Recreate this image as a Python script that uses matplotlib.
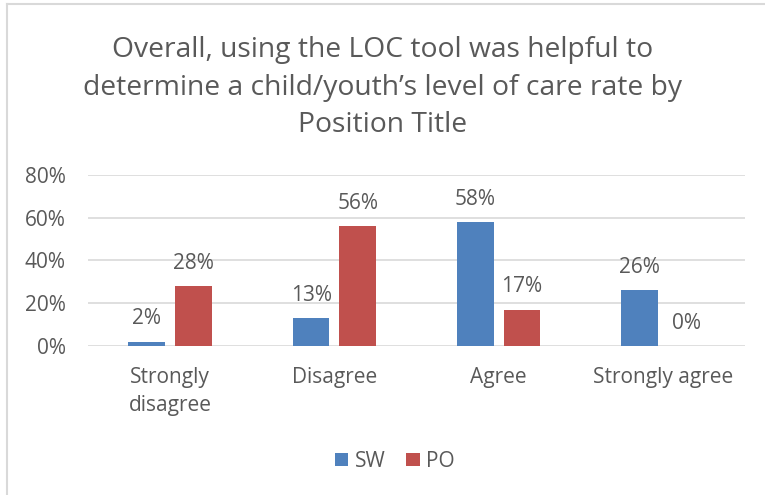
import matplotlib.pyplot as plt
from matplotlib.lines import Line2D
import numpy as np

plt.rcParams['font.family'] = ['Open Sans', 'DejaVu Sans']

categories = ['Strongly\ndisagree', 'Disagree', 'Agree', 'Strongly agree']
sw = [0.02, 0.13, 0.58, 0.26]
po = [0.28, 0.56, 0.17, 0.00]
series_names = ['SW', 'PO']
title = ("Overall, using the LOC tool was helpful to\n"
         "determine a child/youth\u2019s level of care rate by\n"
         "Position Title")

blue = '#4F81BD'
red = '#C0504D'
grey = '#595959'

fig = plt.figure(figsize=(7.65, 4.95), dpi=100)
ax = fig.add_axes([0.115, 0.301, 0.859, 0.3455])

x = np.arange(len(categories))
w = 0.224
off = 0.142
b1 = ax.bar(x - off, sw, w, color=blue, label=series_names[0], zorder=3)
b2 = ax.bar(x + off, po, w, color=red, label=series_names[1], zorder=3)

for bars, vals in [(b1, sw), (b2, po)]:
    for rect, v in zip(bars, vals):
        ax.annotate('{:.0f}%'.format(v * 100),
                    (rect.get_x() + rect.get_width() / 2, v),
                    xytext=(0, 9), textcoords='offset points',
                    ha='center', va='bottom', fontsize=15, color=grey)

ax.set_xlim(-0.5, 3.5)
ax.set_ylim(0, 0.8)
ax.set_yticks([0, 0.2, 0.4, 0.6, 0.8])
ax.set_yticklabels(['0%', '20%', '40%', '60%', '80%'])
ax.set_xticks(x)
ax.set_xticklabels(categories, linespacing=1.45)
ax.tick_params(axis='both', length=0, labelsize=15, labelcolor=grey)
ax.tick_params(axis='y', pad=16)
ax.tick_params(axis='x', pad=15)
ax.yaxis.grid(True, color='#D9D9D9', linewidth=1.2, zorder=0)
for s in ax.spines.values():
    s.set_visible(False)

fig.text(0.5, 1 - 36 / 495, title, ha='center', va='top', fontsize=20.3,
         color=grey, linespacing=1.46)

fig.legend(loc='center', bbox_to_anchor=(0.516, 0.068), ncol=2, frameon=False,
           fontsize=15, labelcolor=grey, handlelength=0.65, handleheight=0.65,
           handletextpad=0.3, columnspacing=1.0)

# light border of the chart area
fig.add_artist(Line2D([7 / 765, 1], [1 - 4 / 495, 1 - 4 / 495], color='#D9D9D9', lw=1.5))
fig.add_artist(Line2D([7 / 765, 7 / 765], [0, 1 - 4 / 495], color='#D9D9D9', lw=1.5))

fig.savefig('out.png', dpi=100)
